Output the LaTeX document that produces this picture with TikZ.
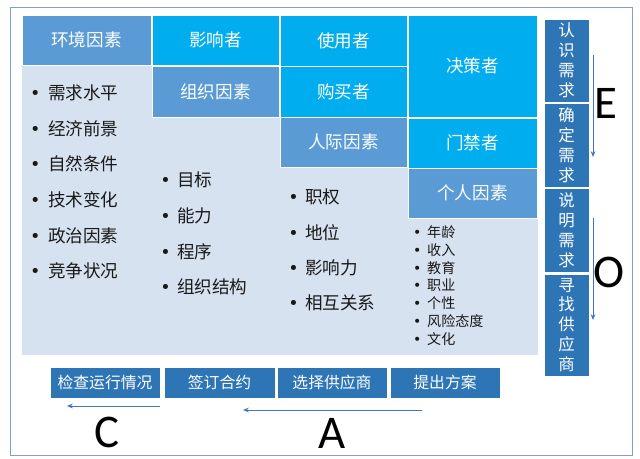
\documentclass[tikz,border=0pt]{standalone}
\usepackage{fontspec}
\setmainfont{Noto Sans CJK SC}
\newfontfamily\latinfont{Carlito}
\newfontfamily\symfont{DejaVu Sans}
\usetikzlibrary{arrows.meta}
\definecolor{cyanblue}{HTML}{00AEEF}
\definecolor{steelblue}{HTML}{5B9BD5}
\definecolor{stepblue}{HTML}{2E75B6}
\definecolor{lightbg}{HTML}{D7E2F1}
\definecolor{flowblue}{HTML}{4472C4}
\definecolor{framecol}{HTML}{7F9FCF}
\newcommand{\bul}[1]{\llap{\makebox[#1]{\symfont •}}}
\tikzset{
  box/.style 2 args={minimum width=#1*0.03cm, minimum height=#2*0.03cm},
  cell/.style={draw=white, line width=0.8pt, text=white, font=\fontsize{15}{18}\selectfont},
  topcell/.style={cell, fill=cyanblue},
  factor/.style={cell, fill=steelblue},
  stepbox/.style={draw=white, line width=0.8pt, fill=stepblue, text=white, align=center,
    font=\fontsize{14}{17}\selectfont},
  item/.style={anchor=west, text=black!90, font=\fontsize{15}{18}\selectfont},
  smallitem/.style={anchor=west, text=black!90, font=\fontsize{12}{14}\selectfont},
  flow/.style={draw=flowblue, line width=0.8pt, -{Stealth[length=5pt,width=4pt]}},
  letter/.style={font=\latinfont\fontsize{40}{40}\selectfont}
}
\begin{document}
\begin{tikzpicture}[x=0.03cm,y=-0.03cm]
\tikzstyle{every node}+=[inner sep=0pt]
\useasboundingbox (0,0) rectangle (640,459);
\draw [framecol, line width=0.8pt] (10,7) rectangle (632,455);
\fill [lightbg] (22,15) rectangle (538,355);
% header cells
\node [factor, box={129}{50}] (env) at (86.5,40) {环境因素};
\node [topcell, box={127}{50}] (infl) at (215.5,40) {影响者};
\node [factor, box={127}{51}] (org) at (215.5,92) {组织因素};
\node [topcell, box={127}{51}] (user) at (343.5,40.5) {使用者};
\node [topcell, box={127}{51}] (buyer) at (343.5,91.5) {购买者};
\node [factor, box={127}{50}] (inter) at (343.5,142) {人际因素};
\node [topcell, box={129}{102}] (decider) at (472.5,66) {决策者};
\node [topcell, box={129}{50}] (gate) at (472.5,143) {门禁者};
\node [factor, box={129}{50}] (indiv) at (472.5,193) {个人因素};
% bullet lists
\foreach \t [count=\i from 0] in {需求水平,经济前景,自然条件,技术变化,政治因素,竞争状况}
  \node [item] (envi\i) at (48,{93+35.6*\i}) {\bul{22pt}\t};
\foreach \t [count=\i from 0] in {目标,能力,程序,组织结构}
  \node [item] (orgi\i) at (177,{180+35.7*\i}) {\bul{20pt}\t};
\foreach \t [count=\i from 0] in {职权,地位,影响力,相互关系}
  \node [item] (interi\i) at (305,{197+35.4*\i}) {\bul{20pt}\t};
\foreach \t [count=\i from 0] in {年龄,收入,教育,职业,个性,风险态度,文化}
  \node [smallitem] (indivi\i) at (427,{232+17.9*\i}) {\bul{17pt}\t};
% buying steps
\node [stepbox, box={45}{83}] (s1) at (566.5,60.5) {认\\识\\需\\求};
\node [stepbox, box={45}{84}] (s2) at (566.5,145) {确\\定\\需\\求};
\node [stepbox, box={45}{84}] (s3) at (566.5,230) {说\\明\\需\\求};
\node [stepbox, box={45}{102}] (s4) at (566.5,325) {寻\\找\\供\\应\\商};
\node [stepbox, box={110}{31}, font=\fontsize{13.5}{16}\selectfont] (b4) at (445,382.5) {提出方案};
\node [stepbox, box={110}{31}, font=\fontsize{13.5}{16}\selectfont] (b3) at (332,382.5) {选择供应商};
\node [stepbox, box={111}{31}, font=\fontsize{13.5}{16}\selectfont] (b2) at (219.5,382.5) {签订合约};
\node [stepbox, box={110}{31}, font=\fontsize{13.5}{16}\selectfont] (b1) at (105,382.5) {检查运行情况};
% arrows
\coordinate (e1) at (593,55);
\coordinate (e2) at (593,157);
\coordinate (o1) at (593,218);
\coordinate (o2) at (593,320);
\coordinate (a1) at (422,410);
\coordinate (a2) at (243,410);
\coordinate (c1) at (160,406);
\coordinate (c2) at (67,406);
\draw [flow] (e1) -- (e2);
\draw [flow] (o1) -- (o2);
\draw [flow] (a1) -- (a2);
\draw [flow] (c1) -- (c2);
\node [letter] (lblE) at (606,103) {E};
\node [letter] (lblO) at (609,272) {O};
\node [letter] (lblC) at (107,432) {C};
\node [letter] (lblA) at (332,433) {A};
\end{tikzpicture}
\end{document}
